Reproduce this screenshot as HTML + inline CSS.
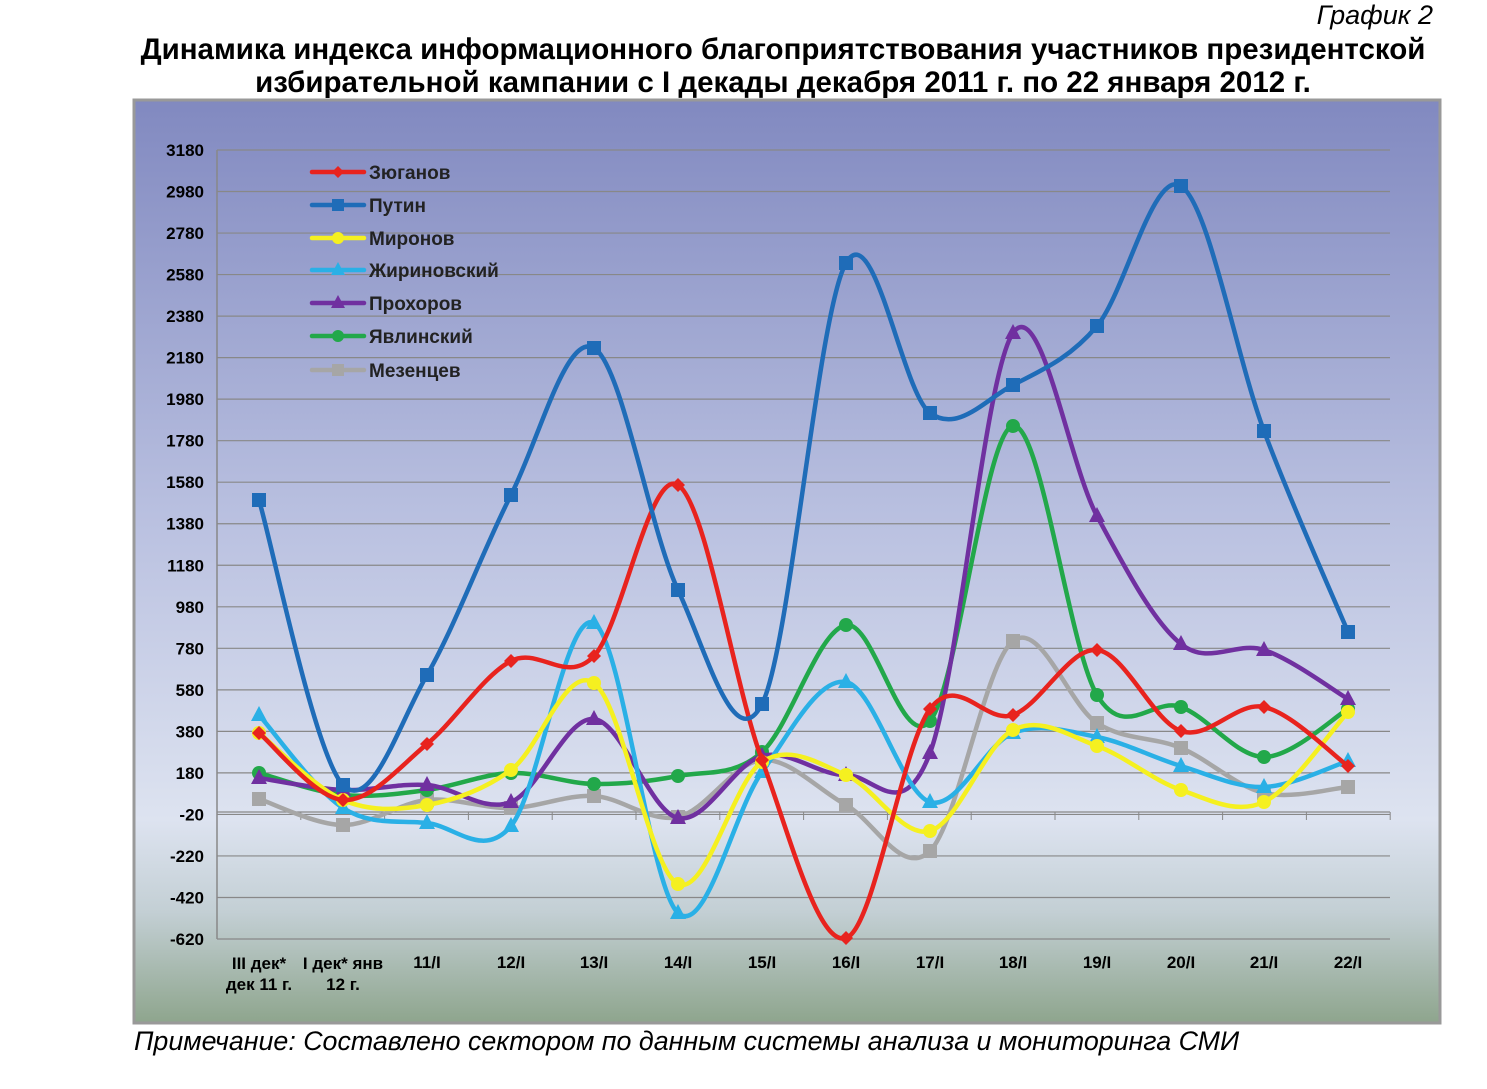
<!DOCTYPE html>
<html><head><meta charset="utf-8"><style>
body{margin:0;background:#fff;width:1487px;height:1084px;overflow:hidden;font-family:"Liberation Sans",sans-serif}
</style></head><body>
<svg id="s" width="1487" height="1084" xmlns="http://www.w3.org/2000/svg" font-family="Liberation Sans, sans-serif">
<defs>
<linearGradient id="bg" x1="0" y1="0" x2="0" y2="1">
<stop offset="0" stop-color="#8189c0"/>
<stop offset="0.45" stop-color="#b9c0e0"/>
<stop offset="0.78" stop-color="#dde3f0"/>
<stop offset="0.88" stop-color="#c3cfd4"/>
<stop offset="1" stop-color="#8ea58d"/>
</linearGradient>
</defs>
<text x="1433" y="24" text-anchor="end" font-size="27" font-style="italic">График 2</text>
<text x="783" y="59" text-anchor="middle" font-size="29.5" font-weight="bold">Динамика индекса информационного благоприятствования участников президентской</text>
<text x="783" y="92" text-anchor="middle" font-size="29.5" font-weight="bold">избирательной кампании с I декады декабря 2011 г. по 22 января 2012 г.</text>
<rect x="134" y="100" width="1306" height="923" fill="url(#bg)" stroke="#999" stroke-width="3"/>
<g id="grid"></g>
<g id="series"></g>
<g id="legend"></g>
<text x="134" y="1050" font-size="26.8" font-style="italic">Примечание: Составлено сектором по данным системы анализа и мониторинга СМИ</text>
</svg>
<script>
var NS="http://www.w3.org/2000/svg";
function el(t,a,p,txt){var e=document.createElementNS(NS,t);for(var k in a)e.setAttribute(k,a[k]);if(txt!==undefined)e.textContent=txt;document.getElementById(p).appendChild(e);return e;}
var y0=150,step=789/19;
for(var i=0;i<20;i++){var y=y0+i*step;var v=3180-i*200;
el('line',{x1:217,x2:1390,y1:y,y2:y,stroke:'#888','stroke-width':1.2},'grid');
el('text',{x:204,y:y+6,'text-anchor':'end','font-size':17,'font-weight':'bold'},'grid',v);}
el('line',{x1:217,x2:217,y1:150,y2:939,stroke:'#888','stroke-width':1.5},'grid');
el('line',{x1:217,x2:1390,y1:812,y2:812,stroke:'#888','stroke-width':1.2},'grid');
var X=[259,343,427,511,594,678,762,846,930,1013,1097,1181,1264,1348];
for(var i=0;i<=14;i++){var x=217+i*83.8;el('line',{x1:x,x2:x,y1:812,y2:820,stroke:'#888'},'grid');}
var labs=['11/I','12/I','13/I','14/I','15/I','16/I','17/I','18/I','19/I','20/I','21/I','22/I'];
for(var i=0;i<12;i++)el('text',{x:X[i+2],y:968,'text-anchor':'middle','font-size':17,'font-weight':'bold'},'grid',labs[i]);
el('text',{x:259,y:969,'text-anchor':'middle','font-size':17,'font-weight':'bold'},'grid','III дек*');
el('text',{x:259,y:990,'text-anchor':'middle','font-size':17,'font-weight':'bold'},'grid','дек 11 г.');
el('text',{x:343,y:969,'text-anchor':'middle','font-size':17,'font-weight':'bold'},'grid','I дек* янв');
el('text',{x:343,y:990,'text-anchor':'middle','font-size':17,'font-weight':'bold'},'grid','12 г.');
var S=[
['Мезенцев','#a6a6a6','sq',[799,825,800,808,796,817,760,805,851,641,723,748,793,787]],
['Явлинский','#22a84a','ci',[773,795,790,773,784,776,752,625,721,426,695,707,757,709]],
['Прохоров','#7030a0','tr',[778,790,785,802,719,818,756,775,753,333,516,644,650,699]],
['Жириновский','#2ab0e6','tr',[715,808,823,826,623,913,772,682,802,733,737,766,787,761]],
['Миронов','#f5f020','ci',[733,800,805,770,683,884,762,775,831,730,746,790,802,712]],
['Зюганов','#e8231e','di',[733,800,744,661,656,485,760,938,709,715,650,731,707,766]],
['Путин','#1f6cb8','sq',[500,785,675,495,348,590,704,263,413,385,326,186,431,632]]];
function mk(g,type,x,y,c,r){r=r||7;
if(type=='sq')el('rect',{x:x-r,y:y-r,width:2*r,height:2*r,fill:c},g);
else if(type=='ci')el('circle',{cx:x,cy:y,r:r,fill:c},g);
else if(type=='tr')el('polygon',{points:(x)+','+(y-r-2)+' '+(x+r+1)+','+(y+r-1)+' '+(x-r-1)+','+(y+r-1),fill:c},g);
else el('polygon',{points:x+','+(y-r)+' '+(x+r)+','+y+' '+x+','+(y+r)+' '+(x-r)+','+y,fill:c},g);}
S.forEach(function(s){var Y=s[3],d='M'+X[0]+','+Y[0];
for(var i=0;i<13;i++){var p0=i>0?[X[i-1],Y[i-1]]:[X[i],Y[i]],p1=[X[i],Y[i]],p2=[X[i+1],Y[i+1]],p3=i<12?[X[i+2],Y[i+2]]:p2;
var t=0.5/3;d+=' C'+(p1[0]+(p2[0]-p0[0])*t)+','+(p1[1]+(p2[1]-p0[1])*t)+' '+(p2[0]-(p3[0]-p1[0])*t)+','+(p2[1]-(p3[1]-p1[1])*t)+' '+p2[0]+','+p2[1];}
el('path',{d:d,fill:'none',stroke:s[1],'stroke-width':4.5},'series');
for(var i=0;i<14;i++)mk('series',s[2],X[i],Y[i],s[1]);});
var L=[['Зюганов','#e8231e','di'],['Путин','#1f6cb8','sq'],['Миронов','#f5f020','ci'],['Жириновский','#2ab0e6','tr'],['Прохоров','#7030a0','tr'],['Явлинский','#22a84a','ci'],['Мезенцев','#a6a6a6','sq']];
var LY=[172,205,238,270,303,336,370];
L.forEach(function(l,i){el('line',{x1:312,x2:364,y1:LY[i],y2:LY[i],stroke:l[1],'stroke-width':4.5,'stroke-linecap':'round'},'legend');
mk('legend',l[2],338,LY[i],l[1],6);
el('text',{x:369,y:LY[i]+7,'font-size':19,'font-weight':'bold',fill:'#222'},'legend',l[0]);});
</script>
</body></html>
